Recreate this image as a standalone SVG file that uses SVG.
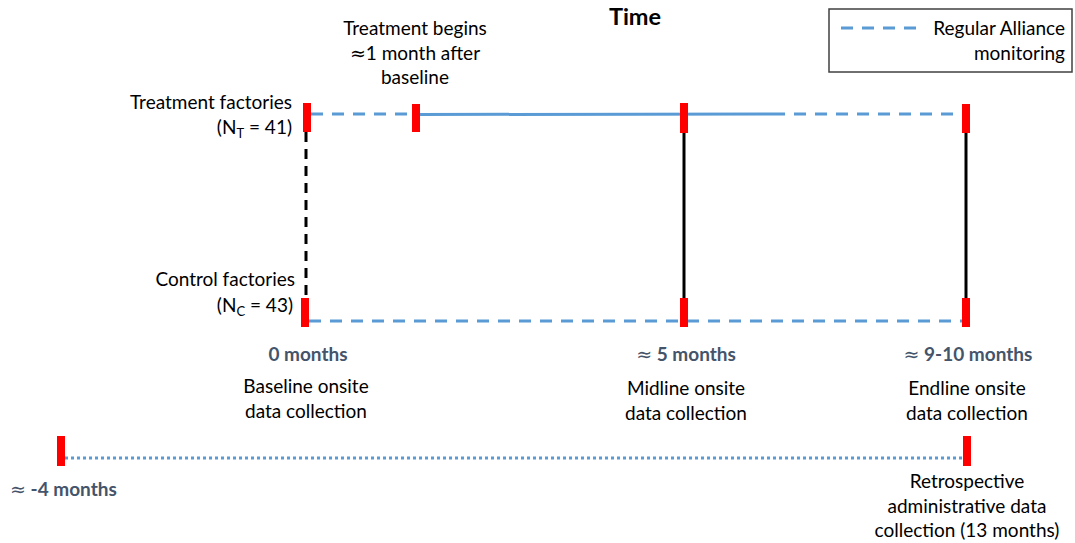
<svg xmlns="http://www.w3.org/2000/svg" width="1075" height="543" viewBox="0 0 1075 543">
<style>
text{font-family:Lato,"Open Sans","Liberation Sans",sans-serif;font-size:19px;fill:#000}
.b{font-weight:bold;fill:#44546A}
.t{font-weight:bold;font-size:23.5px;fill:#000}
.m{text-anchor:middle}
.e{text-anchor:end}
.ap{font-family:"DejaVu Sans",sans-serif;font-weight:normal}
.bar{fill:#FF0000}
.blue{stroke:#5B9BD5;stroke-width:3;fill:none}
.dash{stroke-dasharray:12 9}
.dot{stroke-dasharray:3 3}
.blk{stroke:#000;stroke-width:3;fill:none}
</style>
<rect width="1075" height="543" fill="#fff"/>
<g id="connectors">
<line class="blue dash" x1="311" y1="114" x2="412" y2="114"/>
<line class="blue" x1="420" y1="114.5" x2="773" y2="114"/>
<line class="blue dash" x1="773" y1="114" x2="962" y2="114"/>
<line class="blue dash" x1="309" y1="321" x2="962" y2="321"/>
<line class="blue dot" x1="65" y1="458" x2="963" y2="458"/>
<line class="blk" x1="306" y1="132" x2="306" y2="298" stroke-dasharray="10 7"/>
<line class="blk" x1="684" y1="133" x2="684" y2="298"/>
<line class="blk" x1="966" y1="133" x2="966" y2="298"/>
</g>
<g id="title"><text class="t m" x="635" y="25">Time</text></g>
<g id="legend">
<rect x="829" y="9" width="243" height="63" fill="#fff" stroke="#404040" stroke-width="1.5"/>
<line class="blue dash" x1="841" y1="28" x2="925" y2="28"/>
<text class="e" x="1065" y="35">Regular Alliance</text>
<text class="e" x="1065" y="60">monitoring</text>
</g>
<g id="treatment-start">
<rect class="bar" x="303" y="103" width="8" height="29"/>
<text class="e" x="292" y="109">Treatment factories</text>
<text class="e" x="292" y="134">(N<tspan font-size="13" dy="4">T</tspan><tspan dy="-4"> = 41)</tspan></text>
</g>
<g id="treatment-begins">
<rect class="bar" x="412" y="104" width="8" height="28"/>
<text class="m" x="415" y="35">Treatment begins</text>
<text class="m" x="415" y="60"><tspan class="ap">≈</tspan>1 month after</text>
<text class="m" x="415" y="84">baseline</text>
</g>
<g id="control-start">
<rect class="bar" x="301" y="298" width="8" height="29"/>
<text class="e" x="295" y="286">Control factories</text>
<text class="e" x="293" y="312">(N<tspan font-size="13" dy="4">C</tspan><tspan dy="-4"> = 43)</tspan></text>
</g>
<g id="baseline">
<text class="b m" x="308" y="361">0 months</text>
<text class="m" x="306" y="393">Baseline onsite</text>
<text class="m" x="306" y="418">data collection</text>
</g>
<g id="midline">
<rect class="bar" x="680" y="103" width="8" height="30"/>
<rect class="bar" x="680" y="298" width="8" height="29"/>
<text class="b m" x="686" y="361"><tspan class="ap">≈</tspan> 5 months</text>
<text class="m" x="686" y="395">Midline onsite</text>
<text class="m" x="686" y="420">data collection</text>
</g>
<g id="endline">
<rect class="bar" x="962" y="104" width="8" height="29"/>
<rect class="bar" x="962" y="298" width="8" height="29"/>
<text class="b m" x="968" y="361"><tspan class="ap">≈</tspan> 9-10 months</text>
<text class="m" x="967" y="395">Endline onsite</text>
<text class="m" x="967" y="420">data collection</text>
</g>
<g id="pre-period">
<rect class="bar" x="57" y="436" width="8" height="30"/>
<text class="b" x="10" y="496"><tspan class="ap">≈</tspan> -4 months</text>
</g>
<g id="retrospective">
<rect class="bar" x="963" y="436" width="8" height="30"/>
<text class="m" x="967" y="488">Retrospective</text>
<text class="m" x="967" y="513">administrative data</text>
<text class="m" x="967" y="537">collection (13 months)</text>
</g>
</svg>
